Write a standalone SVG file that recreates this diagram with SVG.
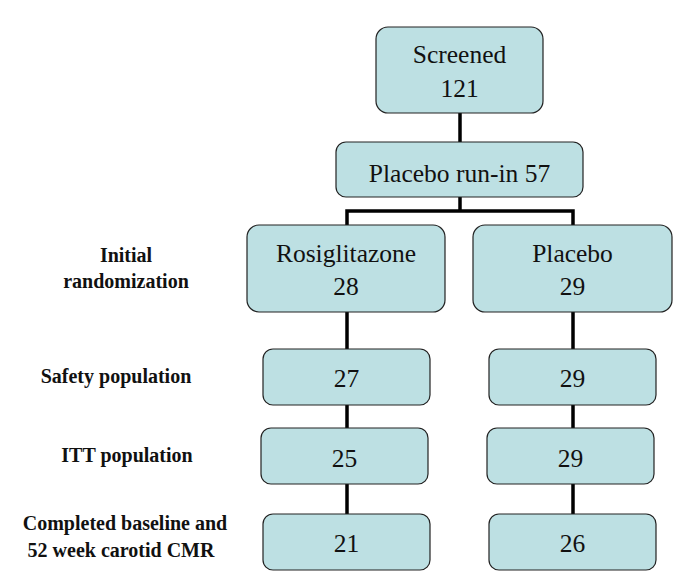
<svg xmlns="http://www.w3.org/2000/svg" width="683" height="587" viewBox="0 0 683 587">
<style>
.box{fill:#bde0e3;stroke:#222;stroke-width:1.2}
.t{font-family:'Liberation Serif','Times New Roman',serif;font-size:25.5px;fill:#111;text-anchor:middle}
.l{font-family:'Liberation Serif','Times New Roman',serif;font-size:20px;font-weight:bold;fill:#111;text-anchor:middle}
.c{stroke:#000;stroke-width:3.5;fill:none}
</style>
<rect width="683" height="587" fill="#fff"/>
<g id="connectors">
<line class="c" x1="460" y1="113" x2="460" y2="142"/>
<polyline class="c" points="460,197 460,211"/>
<polyline class="c" points="347,225 347,211 573,211 573,225"/>
<line class="c" x1="347" y1="312" x2="347" y2="514"/>
<line class="c" x1="573" y1="312" x2="573" y2="514"/>
</g>
<g id="screened"><rect class="box" x="376" y="27" width="167" height="86" rx="12"/><text class="t" x="459.5" y="63">Screened</text><text class="t" x="459.5" y="97">121</text></g>
<g id="runin"><rect class="box" x="336" y="142" width="247" height="55" rx="10"/><text class="t" x="459.5" y="182">Placebo run-in 57</text></g>
<g id="rosi"><rect class="box" x="247" y="225" width="198" height="87" rx="12"/><text class="t" x="346" y="262">Rosiglitazone</text><text class="t" x="346" y="295">28</text></g>
<g id="placebo"><rect class="box" x="473" y="225" width="199" height="87" rx="12"/><text class="t" x="572.5" y="262">Placebo</text><text class="t" x="572.5" y="295">29</text></g>
<g id="r-safety"><rect class="box" x="263" y="349" width="167" height="56" rx="10"/><text class="t" x="346.5" y="387">27</text></g>
<g id="p-safety"><rect class="box" x="489" y="349" width="167" height="56" rx="10"/><text class="t" x="572.5" y="387">29</text></g>
<g id="r-itt"><rect class="box" x="261" y="428" width="167" height="56" rx="10"/><text class="t" x="344.5" y="467">25</text></g>
<g id="p-itt"><rect class="box" x="487" y="428" width="167" height="56" rx="10"/><text class="t" x="570.5" y="467">29</text></g>
<g id="r-comp"><rect class="box" x="263" y="514" width="167" height="56" rx="10"/><text class="t" x="346.5" y="552">21</text></g>
<g id="p-comp"><rect class="box" x="489" y="514" width="167" height="56" rx="10"/><text class="t" x="572.5" y="552">26</text></g>
<g id="labels">
<text class="l" x="126" y="262">Initial</text>
<text class="l" x="126" y="288">randomization</text>
<text class="l" x="116" y="383">Safety population</text>
<text class="l" x="127" y="462">ITT population</text>
<text class="l" x="125" y="530">Completed baseline and</text>
<text class="l" x="121" y="557">52 week carotid CMR</text>
</g>
</svg>
